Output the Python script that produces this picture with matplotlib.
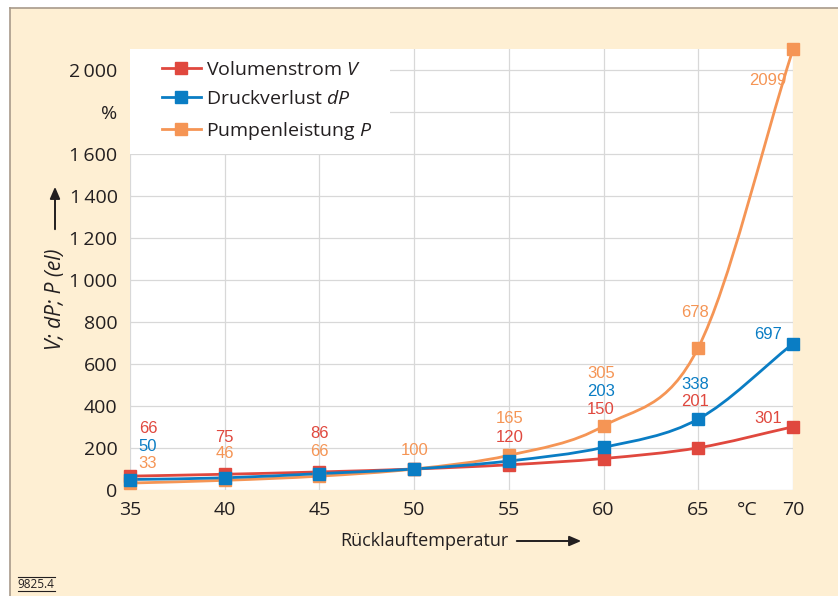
import numpy as np
import matplotlib
matplotlib.use("Agg")
import matplotlib.pyplot as plt
from matplotlib.path import Path
from matplotlib.patches import PathPatch, Rectangle, FancyArrowPatch
from matplotlib.lines import Line2D

# data
temps = [35, 40, 45, 50, 55, 60, 65, 70]
volumenstrom = [66, 75, 86, 100, 120, 150, 201, 301]
druckverlust = [50, 58, 78, 100, 138, 203, 338, 697]
pumpenleistung = [33, 46, 66, 100, 165, 305, 678, 2099]

# which values carry a printed label (None = no label)
vol_labels = ["66", "75", "86", None, "120", "150", "201", "301"]
dru_labels = ["50", None, None, None, None, "203", "338", "697"]
pum_labels = ["33", "46", "66", "100", "165", "305", "678", "2099"]

# label placement (data coords)
lab_x = [35.95, 40.0, 44.98, 50.05, 55.06, 59.86, 64.83, 68.68]
vol_lab_y = [291, 248, 267, None, 248, 382, 420, 339]
dru_lab_y = [205, None, None, None, None, 468, 501, 740]
pum_lab_y = [124, 172, 181, 186, 339, 554, 845, 1952]

yticks = [0, 200, 400, 600, 800, 1000, 1200, 1400, 1600, 1800, 2000]
ytick_labels = ["0", "200", "400", "600", "800", "1\u2009000", "1\u2009200",
                "1\u2009400", "1\u2009600", "%", "2\u2009000"]
xticks = [35, 40, 45, 50, 55, 60, 65, 70]

RED = "#e0483e"
BLUE = "#0a7dc4"
ORANGE = "#f59555"
CREAM = "#feefd3"
TXT = "#231f20"

plt.rcParams["font.family"] = ["Open Sans", "DejaVu Sans"]
plt.rcParams["mathtext.fontset"] = "custom"
plt.rcParams["mathtext.rm"] = "Open Sans"
plt.rcParams["mathtext.it"] = "Open Sans:italic"


def smooth_path(xs, ys):
    # catmull-rom through the points, as cubic bezier segments
    pts = np.column_stack([xs, ys]).astype(float)
    n = len(pts)
    verts = [pts[0]]
    codes = [Path.MOVETO]
    for i in range(n - 1):
        p1 = pts[i]
        p2 = pts[i + 1]
        p0 = pts[i - 1] if i > 0 else 2 * p1 - p2
        p3 = pts[i + 2] if i + 2 < n else 2 * p2 - p1
        verts += [p1 + (p2 - p0) / 6, p2 - (p3 - p1) / 6, p2]
        codes += [Path.CURVE4] * 3
    return Path(verts, codes)


fig = plt.figure(figsize=(8.38, 5.96), dpi=100)
fig.patch.set_facecolor("white")
fig.patches.append(Rectangle((10 / 838, 0), 1, 1 - 8 / 596, transform=fig.transFigure,
                             facecolor=CREAM, edgecolor="none", zorder=-10))
fig.lines.append(Line2D([10 / 838, 1], [1 - 8 / 596] * 2, transform=fig.transFigure,
                        color="#a89a8a", lw=1.2, zorder=-5))
fig.lines.append(Line2D([10 / 838] * 2, [0, 1 - 8 / 596], transform=fig.transFigure,
                        color="#a89a8a", lw=1.2, zorder=-5))

ax = fig.add_axes([130 / 838, 1 - 490 / 596, 663 / 838, 441 / 596])
ax.set_facecolor("white")
ax.set_xlim(35, 70)
ax.set_ylim(0, 2100)
ax.set_axisbelow(True)
ax.grid(True, color="#d8d8d8", lw=0.9)
for s in ax.spines.values():
    s.set_visible(False)

ax.set_xticks(xticks)
ax.set_yticks(yticks)
ax.set_yticklabels(ytick_labels)
ax.tick_params(length=0, labelsize=14, colors=TXT)
ax.tick_params(axis="x", pad=8)
ax.tick_params(axis="y", pad=9)
ax.annotate("°C", xy=(67.6, 0), xycoords=("data", "axes fraction"), xytext=(0, -8),
            textcoords="offset points", ha="center", va="top", fontsize=14, color=TXT)

# white box behind legend
ax.add_patch(Rectangle((0, 1 - 105 / 441), 260 / 663, 105 / 441, transform=ax.transAxes,
                       facecolor="white", edgecolor="none", zorder=1))

series = [
    (volumenstrom, RED, vol_labels, vol_lab_y, 2.0),
    (pumpenleistung, ORANGE, pum_labels, pum_lab_y, 2.1),
    (druckverlust, BLUE, dru_labels, dru_lab_y, 2.2),
]
for vals, col, labs, ly, z in series:
    ax.add_patch(PathPatch(smooth_path(temps, vals), fill=False, edgecolor=col,
                           lw=2, zorder=z, capstyle="round"))
    ax.plot(temps, vals, "s", color=col, ms=8.5, zorder=z + 1, clip_on=False)
    for x, t, y in zip(lab_x, labs, ly):
        if t is None:
            continue
        ax.text(x, y, t, color=col, fontsize=12, ha="center", va="center",
                family=["Liberation Sans", "DejaVu Sans"], zorder=4)

handles = [Line2D([], [], color=c, lw=2, marker="s", ms=8.5) for c in (RED, BLUE, ORANGE)]
ax.legend(handles, ["Volumenstrom $V$", "Druckverlust $dP$", "Pumpenleistung $P$"],
          loc="upper left", bbox_to_anchor=(32 / 663, 1 - 12 / 441), frameon=False,
          borderpad=0, borderaxespad=0, handlelength=2.0, handletextpad=0.25,
          labelspacing=0.58, fontsize=14, labelcolor=TXT)

# axis titles with arrows
fig.text(56 / 838, 1 - 299 / 596, "V; dP; P (el)", rotation=90, style="italic",
         fontsize=15, color=TXT, ha="center", va="center")
fig.patches.append(FancyArrowPatch(
    (55 / 838, 1 - 232 / 596), (55 / 838, 1 - 184 / 596), transform=fig.transFigure,
    arrowstyle="-|>,head_length=7,head_width=3", color=TXT, lw=1.4, mutation_scale=1))
fig.text(424 / 838, 1 - 541 / 596, "Rücklauftemperatur", fontsize=13, color=TXT,
         ha="center", va="center")
fig.patches.append(FancyArrowPatch(
    (514 / 838, 1 - 541 / 596), (584 / 838, 1 - 541 / 596), transform=fig.transFigure,
    arrowstyle="-|>,head_length=7,head_width=3", color=TXT, lw=1.4, mutation_scale=1))

fig.text(36 / 838, 1 - 584 / 596, "9825.4", fontsize=8.5, color=TXT, ha="center",
         va="center")
fig.lines.append(Line2D([18 / 838, 55 / 838], [1 - 577 / 596] * 2,
                        transform=fig.transFigure, color=TXT, lw=0.8))
fig.lines.append(Line2D([18 / 838, 55 / 838], [1 - 591 / 596] * 2,
                        transform=fig.transFigure, color=TXT, lw=0.8))

fig.savefig("out.png", dpi=100, facecolor=fig.get_facecolor())
